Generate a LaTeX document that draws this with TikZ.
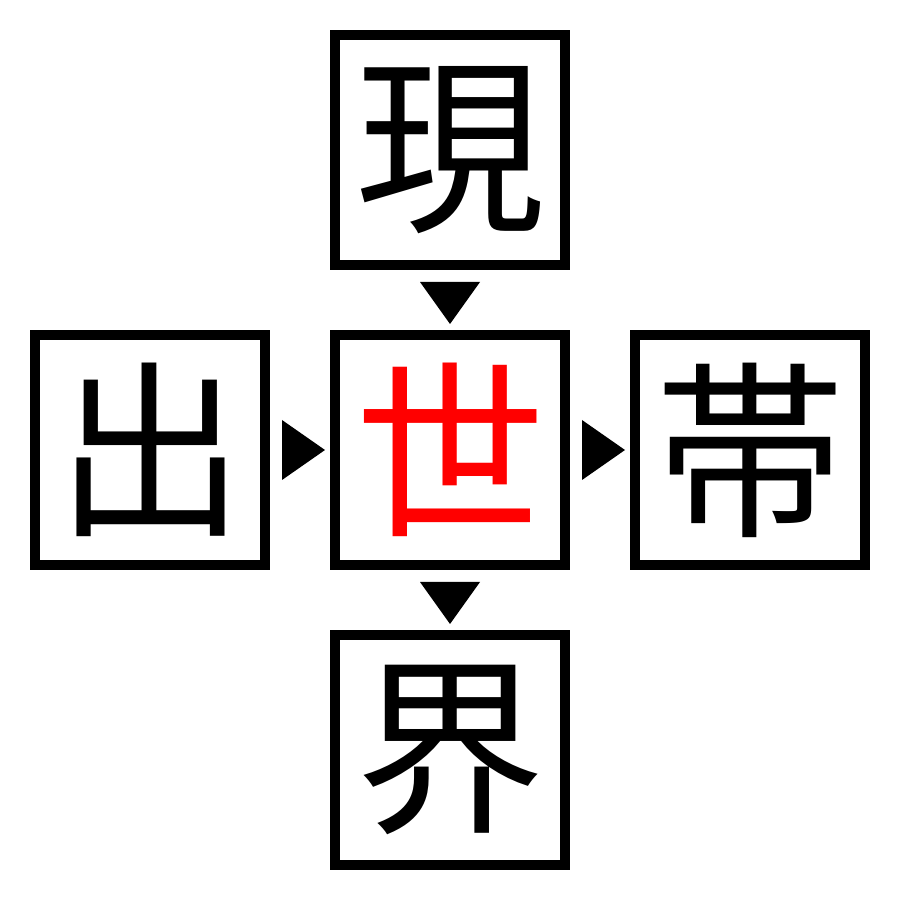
\documentclass[tikz,border=0pt]{standalone}
\usepackage{fontspec}
\newfontfamily\cjk{Noto Sans CJK JP}
\usetikzlibrary{positioning,calc}

\tikzset{
  kanji/.style={draw, line width=1mm, minimum size=2.3cm, inner sep=0pt,
    font=\cjk\fontsize{54}{54}\selectfont},
  marker/.style={fill=black}
}

\begin{document}
\begin{tikzpicture}[node distance=3cm,on grid]
  \useasboundingbox (0,0) rectangle (9,9);
  \node[kanji, text=red] (k_c) at (4.5,4.5) {世};
  \node[kanji] (k_t) [above=of k_c] {現};
  \node[kanji] (k_l) [left=of k_c] {出};
  \node[kanji] (k_r) [right=of k_c] {帯};
  \node[kanji] (k_b) [below=of k_c] {界};
  % markers between the boxes
  \coordinate (m_t) at ($(k_t)!0.5!(k_c)$);
  \coordinate (m_b) at ($(k_c)!0.5!(k_b)$);
  \coordinate (m_l) at ($(k_l)!0.5!(k_c)$);
  \coordinate (m_r) at ($(k_c)!0.5!(k_r)$);
  \fill[marker] (m_t) ++(-0.3,0.18) -- ++(0.6,0) -- ++(-0.3,-0.42) -- cycle;
  \fill[marker] (m_b) ++(-0.3,0.18) -- ++(0.6,0) -- ++(-0.3,-0.42) -- cycle;
  \fill[marker] (m_l) ++(-0.18,0.3) -- ++(0,-0.6) -- ++(0.43,0.3) -- cycle;
  \fill[marker] (m_r) ++(-0.18,0.3) -- ++(0,-0.6) -- ++(0.43,0.3) -- cycle;
\end{tikzpicture}
\end{document}
